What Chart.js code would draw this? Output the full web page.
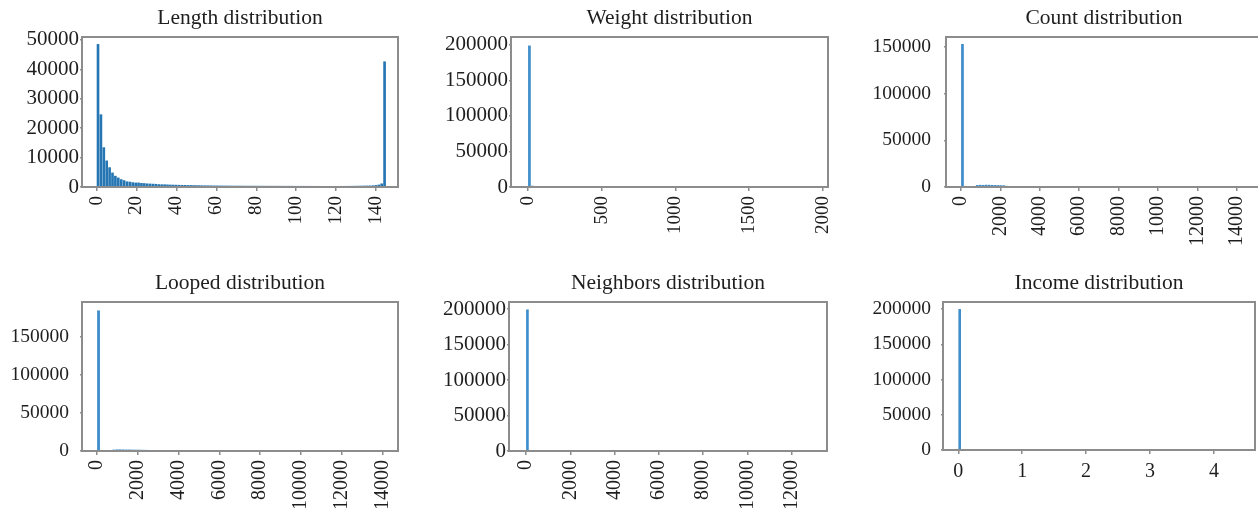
<!DOCTYPE html>
<html lang="en">
<head>
<meta charset="UTF-8">
<title>Feature distributions</title>
<script src="https://cdn.jsdelivr.net/npm/chart.js@4.4.0/dist/chart.umd.min.js"></script>
<style>
  * { box-sizing: border-box; margin: 0; padding: 0; }
  html, body { width: 1258px; height: 508px; overflow: hidden; background: #fff; }
  .panel { position: absolute; }
</style>
</head>
<body>
<div class="panel" id="p1"><canvas id="c1"></canvas></div>
<div class="panel" id="p2"><canvas id="c2"></canvas></div>
<div class="panel" id="p3"><canvas id="c3"></canvas></div>
<div class="panel" id="p4"><canvas id="c4"></canvas></div>
<div class="panel" id="p5"><canvas id="c5"></canvas></div>
<div class="panel" id="p6"><canvas id="c6"></canvas></div>

<script>
// ── data (histogram counts per bin) ──────────────────────────────────────────
const lengthBinWidth = 1.45
const lengthCounts = [
  48600, 24700, 13500, 9000, 6700, 4900, 3800, 3200, 2650, 2300,
  1900, 1800, 1600, 1500, 1500, 1350, 1300, 1200, 1150, 1100,
  1050, 950, 900, 900, 850, 800, 780, 750, 720, 700,
  680, 650, 640, 620, 600, 580, 560, 550, 540, 520,
  510, 500, 490, 480, 470, 460, 450, 450, 440, 440,
  430, 430, 420, 420, 420, 410, 410, 400, 400, 400,
  400, 390, 390, 390, 380, 380, 380, 380, 370, 370,
  370, 370, 360, 360, 360, 360, 360, 350, 350, 350,
  350, 350, 350, 350, 360, 360, 370, 380, 390, 400,
  420, 440, 460, 480, 500, 550, 650, 800, 1200, 42700,
]
const lengthXTicks = [0, 20, 40, 60, 80, 100, 120, 140]
const lengthYTicks = [0, 10000, 20000, 30000, 40000, 50000]

const weightBinWidth = 20
const weightCounts = [199000, 1800, 400, 150]
const weightXTicks = [0, 500, 1000, 1500, 2000]
const weightYTicks = [0, 50000, 100000, 150000, 200000]

const countBinWidth = 150
const countCounts = [
  153000, 300, 300, 300, 600,
  2100, 2300, 2200, 2400, 2300, 2200, 2100, 2000, 1900, 1800,
  1200, 1100, 1000, 1000, 950, 950, 900, 900, 900, 880,
  870, 860, 850, 850, 840, 830, 820, 820, 810, 800,
  800, 790, 780, 780, 770, 760, 760, 750, 750, 740,
  730, 730, 720, 720, 710, 700, 700, 690, 690, 680,
  680, 670, 660, 650, 640, 150, 900, 700,
]
const countXTicks = [0, 2000, 4000, 6000, 8000, 10000, 12000, 14000]
const countXLabels = ['0', '2000', '4000', '6000', '8000', '1000', '12000', '14000']
const countYTicks = [0, 50000, 100000, 150000]

const loopedBinWidth = 150
const loopedCounts = [
  184000, 200, 100, 100, 300,
  1800, 2000, 2100, 2000, 1900, 1900, 1800, 1700, 1700, 1600, 1500, 1400, 1200,
]
const loopedXTicks = [0, 2000, 4000, 6000, 8000, 10000, 12000, 14000]
const loopedYTicks = [0, 50000, 100000, 150000]

const neighborsBinWidth = 130
const neighborsCounts = [199500, 300, 100]
const neighborsXTicks = [0, 2000, 4000, 6000, 8000, 10000, 12000]
const neighborsYTicks = [0, 50000, 100000, 150000, 200000]

const incomeBinWidth = 0.044
const incomeCounts = [200000, 0, 0]
const incomeXTicks = [0, 1, 2, 3, 4]
const incomeYTicks = [0, 50000, 100000, 150000, 200000]

// ── layout / style ───────────────────────────────────────────────────────────
const FONT = 'Liberation Serif, Times New Roman, serif'
const FRAME = '#8c8c8c'
const Y_AXIS_W = 90
const TITLE_H = 37
const RIGHT_PAD = 30

const frame = {
  id: 'frame',
  afterDraw(chart) {
    const { ctx, chartArea: a } = chart
    ctx.save()
    ctx.strokeStyle = FRAME
    ctx.lineWidth = 2
    ctx.strokeRect(a.left, a.top, a.right - a.left, a.bottom - a.top)
    ctx.restore()
  }
}

function hist(cfg) {
  const { id, title, area, xAxisH, counts, binWidth, xMin, xMax, yMax, xTicks, xLabels, yTicks,
          rotate, color, yFont, yGap, xFont } = cfg
  const panel = document.getElementById('p' + id)
  panel.style.left   = (area.l - Y_AXIS_W) + 'px'
  panel.style.top    = (area.t - TITLE_H) + 'px'
  panel.style.width  = (area.r - area.l + Y_AXIS_W + RIGHT_PAD) + 'px'
  panel.style.height = (area.b - area.t + TITLE_H + xAxisH) + 'px'

  const points = counts.map((c, i) => ({ x: (i + 0.5) * binWidth, y: c }))
  const labelsX = xLabels || xTicks.map(String)

  new Chart(document.getElementById('c' + id), {
    type: 'bar',
    data: { datasets: [{ data: points, backgroundColor: color, borderWidth: 0,
                         barPercentage: 0.92, categoryPercentage: 1 }] },
    options: {
      responsive: true, maintainAspectRatio: false, animation: false,
      layout: { padding: { left: 0, top: 0, bottom: 0, right: RIGHT_PAD } },
      plugins: {
        legend: { display: false }, tooltip: { enabled: false },
        title: { display: true, text: title, fullSize: false, color: '#1e1e1e',
                 font: { family: FONT, size: 21.5, weight: 'normal', lineHeight: 1.2 },
                 padding: { top: 5, bottom: TITLE_H - 5 - 21.5 * 1.2 } },
      },
      scales: {
        x: {
          type: 'linear', min: xMin, max: xMax, offset: false,
          afterBuildTicks: s => { s.ticks = xTicks.map(v => ({ value: v })) },
          afterFit: s => { s.height = xAxisH },
          ticks: { autoSkip: false, minRotation: rotate ? 90 : 0, maxRotation: rotate ? 90 : 0,
                   padding: rotate ? 5 : 6, color: '#1e1e1e', font: { family: FONT, size: xFont },
                   callback: (v, i) => labelsX[i] },
          grid: { display: true, drawOnChartArea: false, drawTicks: true, offset: false,
                  tickLength: 4, color: FRAME, lineWidth: 1.5 },
          border: { display: true, color: FRAME, width: 2 },
        },
        y: {
          min: 0, max: yMax,
          afterBuildTicks: s => { s.ticks = yTicks.map(v => ({ value: v })) },
          afterFit: s => { s.width = Y_AXIS_W },
          ticks: { autoSkip: false, padding: yGap, color: '#1e1e1e', font: { family: FONT, size: yFont },
                   callback: (v, i) => String(yTicks[i]) },
          grid: { display: true, drawOnChartArea: false, drawTicks: true,
                  tickLength: 2, color: FRAME, lineWidth: 1.5 },
          border: { display: true, color: FRAME, width: 2 },
        },
      },
    },
    plugins: [frame],
  })
}

hist({ id: 1, title: 'Length distribution', area: { l: 82, t: 37, r: 398, b: 187 }, xAxisH: 68,
       counts: lengthCounts, binWidth: lengthBinWidth, xMin: -7.3, xMax: 151, yMax: 51000,
       xTicks: lengthXTicks, yTicks: lengthYTicks, rotate: true, color: '#2776b4',
       yFont: 21, yGap: 1, xFont: 19 })
hist({ id: 2, title: 'Weight distribution', area: { l: 511, t: 37, r: 828, b: 187 }, xAxisH: 68,
       counts: weightCounts, binWidth: weightBinWidth, xMin: -115, xMax: 2035, yMax: 211000,
       xTicks: weightXTicks, yTicks: weightYTicks, rotate: true, color: '#3f8ecb',
       yFont: 21, yGap: 1, xFont: 19 })
hist({ id: 3, title: 'Count distribution', area: { l: 946, t: 37, r: 1262, b: 187 }, xAxisH: 68,
       counts: countCounts, binWidth: countBinWidth, xMin: -761, xMax: 15279, yMax: 160500,
       xTicks: countXTicks, xLabels: countXLabels, yTicks: countYTicks, rotate: true, color: '#3f8ecb',
       yFont: 19.5, yGap: 13, xFont: 20 })
hist({ id: 4, title: 'Looped distribution', area: { l: 82, t: 302, r: 398, b: 451 }, xAxisH: 57,
       counts: loopedCounts, binWidth: loopedBinWidth, xMin: -736, xMax: 14770, yMax: 195000,
       xTicks: loopedXTicks, yTicks: loopedYTicks, rotate: true, color: '#3f8ecb',
       yFont: 19.5, yGap: 11, xFont: 20 })
hist({ id: 5, title: 'Neighbors distribution', area: { l: 509, t: 302, r: 827, b: 451 }, xAxisH: 57,
       counts: neighborsCounts, binWidth: neighborsBinWidth, xMin: -767, xMax: 13589, yMax: 210000,
       xTicks: neighborsXTicks, yTicks: neighborsYTicks, rotate: true, color: '#3f8ecb',
       yFont: 21, yGap: 1, xFont: 20 })
hist({ id: 6, title: 'Income distribution', area: { l: 943, t: 302, r: 1255, b: 450 }, xAxisH: 58,
       counts: incomeCounts, binWidth: incomeBinWidth, xMin: -0.239, xMax: 4.643, yMax: 210000,
       xTicks: incomeXTicks, yTicks: incomeYTicks, rotate: false, color: '#3f8ecb',
       yFont: 19.5, yGap: 10, xFont: 20 })
</script>
</body>
</html>
